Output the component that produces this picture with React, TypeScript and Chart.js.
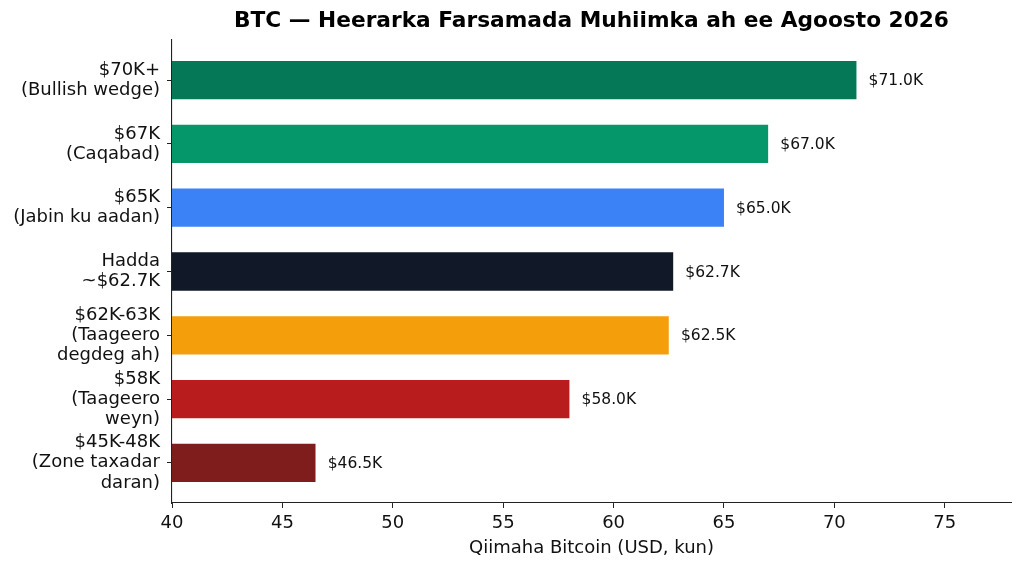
import React, { useEffect, useRef } from "react";
import { Chart, registerables } from "chart.js";

Chart.register(...registerables);

const categories: string[][] = [
  ["$70K+", "(Bullish wedge)"],
  ["$67K", "(Caqabad)"],
  ["$65K", "(Jabin ku aadan)"],
  ["Hadda", "~$62.7K"],
  ["$62K-63K", "(Taageero", "degdeg ah)"],
  ["$58K", "(Taageero", "weyn)"],
  ["$45K-48K", "(Zone taxadar", "daran)"],
];
const values: number[] = [71.0, 67.0, 65.0, 62.7, 62.5, 58.0, 46.5];
const colors: string[] = ["#047857", "#059669", "#3b82f6", "#111827", "#f59e0b", "#b91c1c", "#7f1d1d"];
const xTicks: number[] = [40, 45, 50, 55, 60, 65, 70, 75];
const title = "BTC — Heerarka Farsamada Muhiimka ah ee Agoosto 2026";
const xTitle = "Qiimaha Bitcoin (USD, kun)";

const FONT = "'DejaVu Sans', sans-serif";

export default function App() {
  const ref = useRef<HTMLCanvasElement | null>(null);
  useEffect(() => {
    if (!ref.current) return;
    const titlePlugin = {
      id: "mplTitle",
      afterDraw(chart: any) {
        const { ctx, chartArea } = chart;
        ctx.save();
        ctx.font = `bold 21.7px ${FONT}`;
        ctx.fillStyle = "#000";
        ctx.textAlign = "center";
        ctx.textBaseline = "middle";
        ctx.fillText(title, (chartArea.left + chartArea.right) / 2, 21);
        ctx.restore();
      },
    };
    const valuePlugin = {
      id: "valueLabels",
      afterDatasetsDraw(chart: any) {
        const { ctx } = chart;
        const xs = chart.scales.x;
        const meta = chart.getDatasetMeta(0);
        ctx.save();
        ctx.font = `15.5px ${FONT}`;
        ctx.fillStyle = "#111";
        ctx.textAlign = "left";
        ctx.textBaseline = "middle";
        meta.data.forEach((el: any, i: number) => {
          const v = values[i];
          ctx.fillText("$" + v.toFixed(1) + "K", xs.getPixelForValue(v + 0.55), el.y + 1);
        });
        ctx.restore();
      },
    };
    const chart = new Chart(ref.current, {
      type: "bar",
      data: {
        datasets: [
          {
            data: values.map((v, i) => ({ x: v, y: i })),
            backgroundColor: colors,
            borderWidth: 0,
            categoryPercentage: 1,
            barPercentage: 0.6,
          } as any,
        ],
      },
      options: {
        indexAxis: "y",
        animation: false,
        responsive: true,
        maintainAspectRatio: false,
        devicePixelRatio: 1,
        layout: { padding: { top: 40, right: 13, left: 0, bottom: 0 } },
        plugins: { legend: { display: false }, tooltip: { enabled: false }, title: { display: false } },
        scales: {
          y: {
            type: "linear",
            reverse: true,
            offset: false,
            min: -0.63,
            max: 6.63,
            afterBuildTicks: (scale: any) => {
              scale.ticks = categories.map((_, i) => ({ value: i }));
            },
            afterFit: (scale: any) => {
              scale.width = 172;
              scale.paddingTop = 0;
              scale.paddingBottom = 0;
            },
            ticks: {
              callback: (v: any) => categories[v] ?? "",
              font: { family: FONT, size: 18, lineHeight: 1.12 },
              color: "#111",
              padding: 7,
              autoSkip: false,
            },
            grid: { offset: false, drawOnChartArea: false, drawTicks: true, tickLength: 5, color: "#222", tickWidth: 1 },
            border: { display: true, color: "#222", width: 1.1 },
          },
          x: {
            type: "linear",
            min: 40,
            max: 78,
            afterBuildTicks: (scale: any) => {
              scale.ticks = xTicks.map((v) => ({ value: v }));
            },
            afterFit: (scale: any) => {
              scale.height = 67;
            },
            ticks: {
              font: { family: FONT, size: 18 },
              color: "#111",
              padding: 5,
              autoSkip: false,
              maxRotation: 0,
            },
            grid: { drawOnChartArea: false, drawTicks: true, tickLength: 5, color: "#222", tickWidth: 1 },
            border: { display: true, color: "#222", width: 1.1 },
            title: {
              display: true,
              text: xTitle,
              font: { family: FONT, size: 18 },
              color: "#111",
              padding: { top: 0, bottom: 11 },
            },
          },
        },
      },
      plugins: [titlePlugin, valuePlugin],
    });
    return () => chart.destroy();
  }, []);
  return (
    <div style={{ position: "absolute", left: 0, top: 0, width: 1024, height: 570, background: "#fff" }}>
      <canvas ref={ref} />
    </div>
  );
}
